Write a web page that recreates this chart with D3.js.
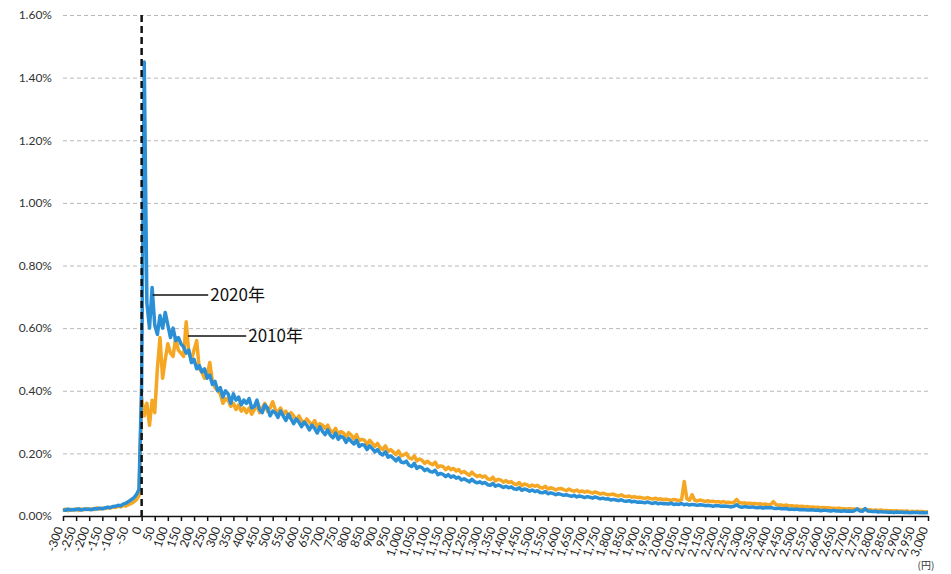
<!DOCTYPE html>
<html>
<head>
<meta charset="utf-8">
<script src="https://cdn.jsdelivr.net/npm/d3@7"></script>
<style>
  body { margin: 0; background: #fff; }
  svg { display: block; }
</style>
</head>
<body>
<div id="container"></div>
<script>
let w = 951;
let h = 574;

// bins: -300 .. 3,000 yen, every 10 yen
let binStart = -300;
let binEnd = 3000;
let binStep = 10;

// share of items (%) per price-change bin, 2020
let values2020 = [
  0.020, 0.018, 0.022, 0.019, 0.021, 0.020, 0.023, 0.019, 0.022, 0.021,
  0.022, 0.020, 0.024, 0.022, 0.025, 0.023, 0.026, 0.028, 0.027, 0.030,
  0.031, 0.034, 0.033, 0.038, 0.041, 0.046, 0.052, 0.058, 0.068, 0.085,
  0.42, 1.45, 0.68, 0.60, 0.73, 0.61, 0.58, 0.64, 0.60, 0.65,
  0.61, 0.57, 0.60, 0.56, 0.57, 0.55, 0.54, 0.52, 0.53, 0.49,
  0.50, 0.47, 0.48, 0.46, 0.47, 0.44, 0.45, 0.42, 0.43, 0.40,
  0.41, 0.38, 0.40, 0.39, 0.36, 0.39, 0.37, 0.38, 0.355, 0.37,
  0.36, 0.375, 0.345, 0.35, 0.37, 0.34, 0.33, 0.355, 0.345, 0.32,
  0.335, 0.33, 0.315, 0.335, 0.32, 0.305, 0.325, 0.31, 0.295, 0.31,
  0.30, 0.285, 0.30, 0.29, 0.275, 0.29, 0.28, 0.265, 0.285, 0.27,
  0.26, 0.275, 0.258, 0.25, 0.265, 0.245, 0.255, 0.25, 0.235, 0.248,
  0.238, 0.23, 0.242, 0.222, 0.228, 0.226, 0.212, 0.224, 0.215, 0.205,
  0.212, 0.2, 0.195, 0.205, 0.188, 0.192, 0.185, 0.176, 0.186, 0.172,
  0.17, 0.175, 0.162, 0.158, 0.168, 0.152, 0.158, 0.154, 0.145, 0.15,
  0.142, 0.14, 0.146, 0.132, 0.136, 0.133, 0.126, 0.132, 0.124, 0.128,
  0.121, 0.124, 0.115, 0.119, 0.114, 0.109, 0.117, 0.11, 0.106, 0.109,
  0.104, 0.107, 0.1, 0.098, 0.104, 0.095, 0.099, 0.096, 0.091, 0.095,
  0.09, 0.093, 0.087, 0.085, 0.09, 0.082, 0.086, 0.084, 0.079, 0.083,
  0.078, 0.081, 0.075, 0.074, 0.078, 0.071, 0.074, 0.072, 0.068, 0.071,
  0.069, 0.066, 0.068, 0.065, 0.063, 0.066, 0.061, 0.064, 0.062, 0.059,
  0.062, 0.06, 0.057, 0.061, 0.058, 0.055, 0.057, 0.054, 0.055, 0.051,
  0.053, 0.051, 0.049, 0.052, 0.048, 0.047, 0.049, 0.045, 0.047, 0.044,
  0.045, 0.044, 0.042, 0.045, 0.042, 0.04, 0.043, 0.039, 0.041, 0.039,
  0.04, 0.038, 0.041, 0.037, 0.038, 0.037, 0.04, 0.036, 0.038, 0.035,
  0.037, 0.036, 0.034, 0.036, 0.035, 0.033, 0.034, 0.033, 0.031, 0.033,
  0.033, 0.031, 0.032, 0.031, 0.03, 0.029, 0.031, 0.036, 0.03, 0.028,
  0.03, 0.029, 0.028, 0.029, 0.027, 0.026, 0.028, 0.025, 0.027, 0.026,
  0.027, 0.025, 0.024, 0.025, 0.023, 0.023, 0.024, 0.021, 0.022, 0.021,
  0.022, 0.02, 0.021, 0.02, 0.019, 0.019, 0.02, 0.018, 0.019, 0.017,
  0.018, 0.018, 0.017, 0.016, 0.018, 0.016, 0.016, 0.015, 0.017, 0.015,
  0.016, 0.015, 0.017, 0.023, 0.016, 0.015, 0.024, 0.016, 0.015, 0.014,
  0.015, 0.013, 0.014, 0.013, 0.013, 0.012, 0.013, 0.011, 0.013, 0.012,
  0.012, 0.011, 0.012, 0.01, 0.011, 0.011, 0.011, 0.01, 0.011, 0.01,
  0.011
];

// share of items (%) per price-change bin, 2010
let values2010 = [
  0.018, 0.022, 0.017, 0.021, 0.019, 0.023, 0.018, 0.022, 0.02, 0.024,
  0.02, 0.023, 0.021, 0.026, 0.022, 0.025, 0.024, 0.027, 0.025, 0.029,
  0.027, 0.031, 0.029, 0.034, 0.032, 0.036, 0.04, 0.045, 0.052, 0.065,
  0.38, 0.32, 0.36, 0.29, 0.37, 0.33, 0.47, 0.57, 0.44, 0.50,
  0.55, 0.52, 0.51, 0.57, 0.53, 0.52, 0.51, 0.62, 0.52, 0.50,
  0.53, 0.56, 0.47, 0.46, 0.44, 0.45, 0.49, 0.43, 0.41, 0.40,
  0.39, 0.36, 0.375, 0.37, 0.35, 0.36, 0.34, 0.355, 0.335, 0.345,
  0.33, 0.345, 0.325, 0.34, 0.355, 0.33, 0.345, 0.36, 0.335, 0.345,
  0.365, 0.34, 0.33, 0.345, 0.325, 0.335, 0.315, 0.33, 0.32, 0.305,
  0.32, 0.305, 0.295, 0.31, 0.3, 0.29, 0.305, 0.285, 0.295, 0.29,
  0.28, 0.29, 0.272, 0.268, 0.28, 0.26, 0.27, 0.265, 0.252, 0.266,
  0.258, 0.246, 0.26, 0.24, 0.245, 0.242, 0.228, 0.242, 0.232, 0.222,
  0.232, 0.218, 0.212, 0.224, 0.206, 0.212, 0.205, 0.196, 0.208, 0.192,
  0.195, 0.2, 0.186, 0.182, 0.192, 0.176, 0.182, 0.178, 0.168, 0.175,
  0.168, 0.164, 0.172, 0.156, 0.16, 0.158, 0.148, 0.156, 0.148, 0.152,
  0.144, 0.148, 0.138, 0.142, 0.136, 0.13, 0.14, 0.132, 0.126, 0.13,
  0.124, 0.128, 0.119, 0.116, 0.124, 0.112, 0.117, 0.115, 0.108, 0.113,
  0.107, 0.11, 0.103, 0.1, 0.107, 0.097, 0.102, 0.1, 0.094, 0.099,
  0.095, 0.098, 0.091, 0.089, 0.095, 0.086, 0.09, 0.088, 0.083, 0.087,
  0.088, 0.084, 0.081, 0.086, 0.082, 0.079, 0.083, 0.077, 0.08, 0.076,
  0.079, 0.076, 0.073, 0.077, 0.074, 0.07, 0.073, 0.07, 0.068, 0.069,
  0.07, 0.066, 0.064, 0.068, 0.063, 0.062, 0.064, 0.06, 0.062, 0.059,
  0.06, 0.058, 0.056, 0.059, 0.056, 0.054, 0.057, 0.053, 0.055, 0.052,
  0.054, 0.052, 0.05, 0.053, 0.051, 0.049, 0.052, 0.11, 0.055, 0.05,
  0.068, 0.05, 0.048, 0.051, 0.049, 0.046, 0.049, 0.046, 0.047, 0.045,
  0.046, 0.044, 0.046, 0.043, 0.044, 0.042, 0.044, 0.053, 0.043, 0.041,
  0.042, 0.04, 0.041, 0.039, 0.04, 0.038, 0.039, 0.037, 0.038, 0.036,
  0.037, 0.046, 0.036, 0.035, 0.035, 0.033, 0.035, 0.032, 0.033, 0.031,
  0.032, 0.03, 0.031, 0.029, 0.03, 0.028, 0.029, 0.027, 0.028, 0.026,
  0.027, 0.026, 0.026, 0.025, 0.025, 0.024, 0.025, 0.023, 0.023, 0.022,
  0.023, 0.022, 0.022, 0.021, 0.021, 0.02, 0.021, 0.019, 0.02, 0.018,
  0.019, 0.018, 0.019, 0.017, 0.018, 0.017, 0.017, 0.016, 0.017, 0.015,
  0.016, 0.015, 0.016, 0.014, 0.015, 0.014, 0.015, 0.014, 0.014, 0.013,
  0.014
];

let yTicks = [0, 0.2, 0.4, 0.6, 0.8, 1.0, 1.2, 1.4, 1.6];
let xTicks = d3.range(-300, 3001, 50);

// label pointers: [yen, value] where the leader line starts, and where it ends
let labels = [
  { text: "2020年", from: [42, 0.706], to: [254, 0.706] },
  { text: "2010年", from: [177, 0.575], to: [399, 0.575] }
];

let bins = d3.range(binStart, binEnd + 1, binStep);

let viz = d3.select("#container").append("svg")
    .attr("width", w)
    .attr("height", h)
    .style("background-color", "white");

let xScale = d3.scaleLinear().domain([-300, 3000]).range([63, 928]);
let yScale = d3.scaleLinear().domain([0, 1.6]).range([516, 15]);

// y gridlines + labels
let yAxis = d3.axisLeft(yScale)
    .tickValues(yTicks)
    .tickSize(-(928 - 63))
    .tickPadding(11)
    .tickFormat(d => d3.format(".2f")(d) + "%");

let yAxisGroup = viz.append("g").attr("class", "yAxis")
    .attr("transform", "translate(63, 0)")
    .call(yAxis);
yAxisGroup.select(".domain").remove();
yAxisGroup.selectAll(".tick line")
    .attr("stroke", "#b8b8b8")
    .attr("stroke-width", 1)
    .attr("stroke-dasharray", "4,3");
yAxisGroup.selectAll(".tick text")
    .style("font-family", "Lato, 'DejaVu Sans', sans-serif")
    .style("font-size", "12px")
    .attr("fill", "#333");

// lines
let line = d3.line()
    .x((d, i) => xScale(bins[i]))
    .y(d => yScale(d));

viz.append("path")
    .attr("d", line(values2010))
    .attr("fill", "none")
    .attr("stroke", "#f5a623")
    .attr("stroke-width", 3.5)
    .attr("stroke-linejoin", "round");

viz.append("path")
    .attr("d", line(values2020))
    .attr("fill", "none")
    .attr("stroke", "#2b8fd5")
    .attr("stroke-width", 3.5)
    .attr("stroke-linejoin", "round");

// zero line
viz.append("line")
    .attr("x1", xScale(0)).attr("x2", xScale(0))
    .attr("y1", yScale(1.6)).attr("y2", yScale(0) + 4)
    .attr("stroke", "#111")
    .attr("stroke-width", 2.5)
    .attr("stroke-dasharray", "7,4");

// x axis
let fmt = d3.format(",");
let xAxis = d3.axisBottom(xScale)
    .tickValues(xTicks)
    .tickSize(5)
    .tickSizeOuter(0)
    .tickFormat(d => d < 0 ? "-" + fmt(-d) : fmt(d));

let xAxisGroup = viz.append("g").attr("class", "xAxis")
    .attr("transform", "translate(0, " + yScale(0) + ")")
    .call(xAxis);
xAxisGroup.select(".domain").attr("stroke", "#111").attr("stroke-width", 1.5);
xAxisGroup.selectAll(".tick line").attr("stroke", "#111").attr("stroke-width", 1.5);
xAxisGroup.selectAll(".tick text")
    .attr("x", -12)
    .attr("y", 0)
    .attr("dy", "0.35em")
    .attr("transform", "rotate(-70)")
    .style("text-anchor", "end")
    .style("font-family", "Lato, 'DejaVu Sans', sans-serif")
    .style("font-size", "12px")
    .attr("fill", "#222");

viz.append("text")
    .attr("x", 926)
    .attr("y", 569)
    .attr("text-anchor", "middle")
    .style("font-family", "'Noto Sans CJK JP', sans-serif")
    .style("font-size", "10px")
    .attr("fill", "#333")
    .text("(円)");

// series labels
labels.forEach(function(l){
    viz.append("line")
        .attr("x1", xScale(l.from[0])).attr("y1", yScale(l.from[1]))
        .attr("x2", xScale(l.to[0])).attr("y2", yScale(l.to[1]))
        .attr("stroke", "#111")
        .attr("stroke-width", 1.5);
    viz.append("text")
        .attr("x", xScale(l.to[0]) + 2)
        .attr("y", yScale(l.to[1]))
        .attr("dy", "0.36em")
        .style("font-family", "'Noto Sans CJK JP', sans-serif")
        .style("font-size", "17px")
        .attr("fill", "#111")
        .text(l.text);
});
</script>
</body>
</html>
